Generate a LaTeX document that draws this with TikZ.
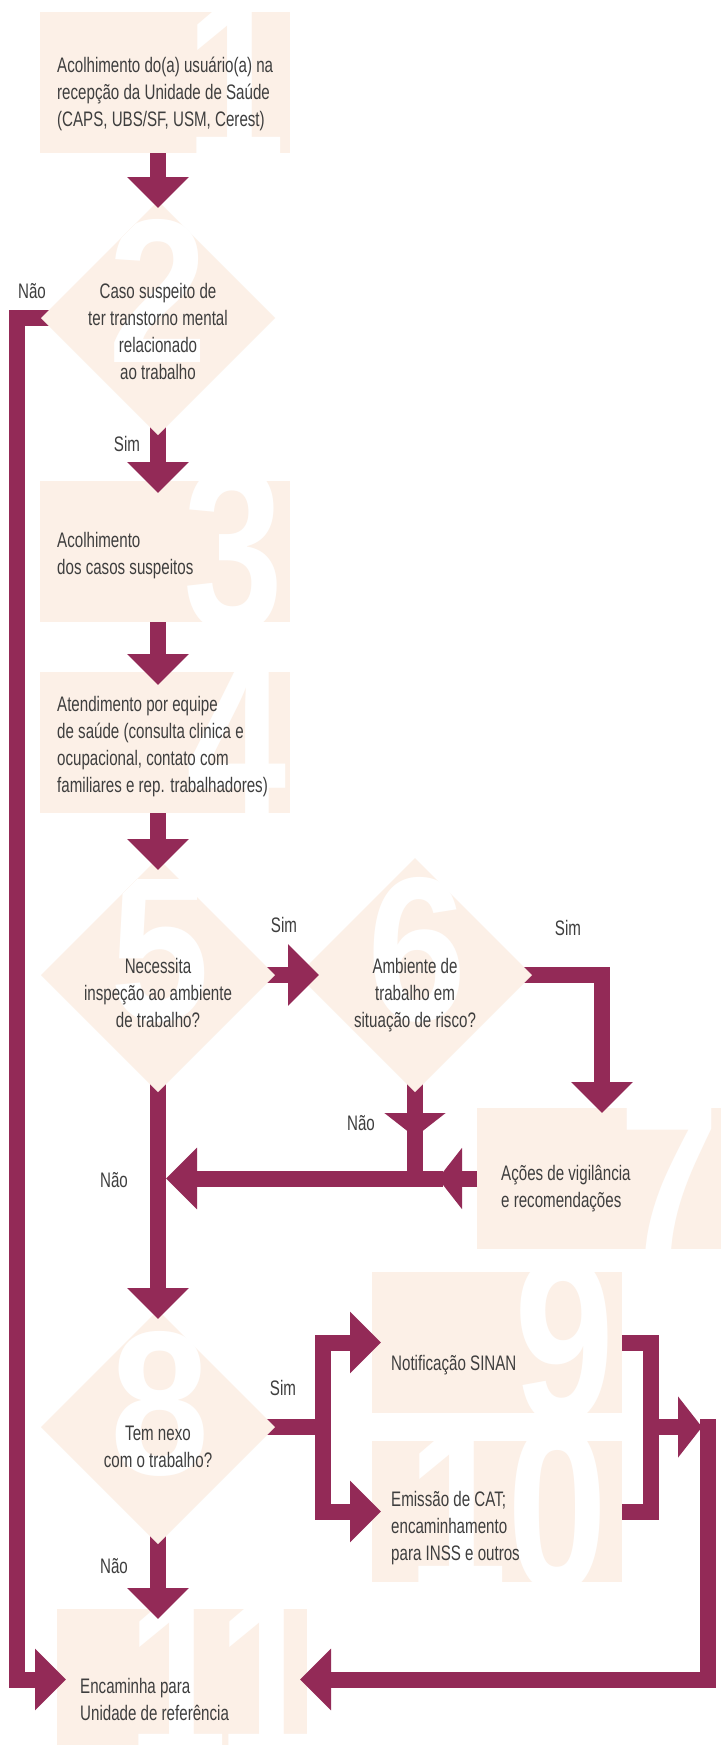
\documentclass[tikz,border=0pt]{standalone}
\usepackage{fontspec}
\usetikzlibrary{shapes.geometric,arrows.meta,calc}
\newfontfamily\bodyfont{Liberation Sans}[FakeStretch=0.72]
\newfontfamily\digitfont{Liberation Sans}[FakeStretch=0.87]
\newfontfamily\digitfontb{Liberation Sans}[FakeStretch=0.76]
\definecolor{maroon}{RGB}{147,42,87}
\definecolor{peach}{RGB}{252,240,231}
\definecolor{txtc}{RGB}{62,62,62}
\pgfdeclarelayer{boxes}
\pgfdeclarelayer{conns}
\pgfdeclarelayer{fg}
\pgfsetlayers{boxes,conns,main,fg}
\tikzset{
 boxnode/.style={rectangle, fill=peach, minimum width=250pt, minimum height=141pt, inner sep=0pt, outer sep=0pt},
 dia/.style={diamond, fill=peach, minimum width=234pt, minimum height=234pt, aspect=1, inner sep=0pt, outer sep=0pt},
 conn/.style={draw=maroon, line width=16pt, line join=miter},
 arr/.style={conn, -{Triangle[length=31pt, width=60pt]}},
 arrs/.style={conn, -{Triangle[length=24pt, width=60pt]}},
 txt/.style={text=txtc, font=\bodyfont\fontsize{21}{26.7}\selectfont, inner sep=0pt, align=left, anchor=base west},
 ctxt/.style={text=txtc, font=\bodyfont\fontsize{21}{26.7}\selectfont, inner sep=0pt, align=center, anchor=base},
 dig/.style={text=white, font=\digitfont\bfseries\fontsize{205}{205}\selectfont, inner sep=0pt, anchor=base west},
 digb/.style={text=white, font=\digitfontb\bfseries\fontsize{237}{237}\selectfont, inner sep=0pt, anchor=base west},
}
\begin{document}
\begin{tikzpicture}[x=1pt,y=-1pt]
\useasboundingbox (0,0) rectangle (720,1745);
\begin{pgfonlayer}{boxes}
\fill[white] (0,0) rectangle (720,1745);
% boxes
\node[boxnode] (b1) at (165,82.5) {};
\node[boxnode] (b3) at (165,551.5) {};
\node[boxnode] (b4) at (165,742.5) {};
\node[boxnode] (b7) at (602,1178.5) {};
\node[boxnode] (b9) at (497,1342.5) {};
\node[boxnode] (b10) at (497,1511.5) {};
\node[boxnode] (b11) at (182,1679.5) {};
\begin{scope}\clip (b1.south west) rectangle (b1.north east); \node[digb] (n1) at (185,161) {1};\end{scope}
\begin{scope}\clip (b3.south west) rectangle (b3.north east); \node[digb] (n3) at (183,630) {3};\end{scope}
\begin{scope}\clip (b4.south west) rectangle (b4.north east); \node[digb] (n4) at (186,821) {4};\end{scope}
\begin{scope}\clip (b7.south west) rectangle (b7.north east); \node[digb] (n7) at (619,1266) {7};\end{scope}
\begin{scope}\clip (b9.south west) rectangle (b9.north east); \node[digb] (n9) at (514,1421) {9};\end{scope}
\begin{scope}\clip (b10.south west) rectangle (b10.north east); \node[digb] (n10) at (407,1590) {10};\end{scope}
\begin{scope}\clip (b11.south west) rectangle (b11.north east); \node[digb] (n11) at (127,1758) {11};\end{scope}
% texts: anchor is baseline of last line
\node[txt] (t1) at (57,126) {Acolhimento do(a) usuário(a) na\\recepção da Unidade de Saúde\\(CAPS, UBS/SF, USM, Cerest)};
\node[txt] (t3) at (57,574) {Acolhimento\\dos casos suspeitos};
\node[txt] (t4) at (57,792) {Atendimento por equipe\\de saúde (consulta clinica e\\ocupacional, contato com\\familiares e rep. trabalhadores)};
\node[txt] (t7) at (501,1207) {Ações de vigilância\\e recomendações};
\node[txt] (t9) at (391,1370) {Notificação SINAN};
\node[txt] (t10) at (391,1560) {Emissão de CAT;\\encaminhamento\\para INSS e outros};
\node[txt] (t11) at (80,1720) {Encaminha para\\Unidade de referência};
\end{pgfonlayer}
% diamonds (main layer)
\node[dia] (d2) at (158,318) {};
\node[dia] (d5) at (158,975) {};
\node[dia] (d6) at (415,975) {};
\node[dia] (d8) at (158,1427) {};
\begin{scope}\clip (d2.north)--(d2.east)--(d2.south)--(d2.west)--cycle; \node[dig] (n2) at (108,362) {2};\end{scope}
\begin{scope}\clip (d5.north)--(d5.east)--(d5.south)--(d5.west)--cycle; \node[dig] (n5) at (110,1020) {5};\end{scope}
\begin{scope}\clip (d6.north)--(d6.east)--(d6.south)--(d6.west)--cycle; \node[dig] (n6) at (367,1020) {6};\end{scope}
\begin{scope}\clip (d8.north)--(d8.east)--(d8.south)--(d8.west)--cycle; \node[dig] (n8) at (110,1474) {8};\end{scope}
\node[ctxt] (dt2) at (158,379) {Caso suspeito de\\ter transtorno mental\\relacionado\\ao trabalho};
\node[ctxt] (dt5) at (158,1027) {Necessita\\inspeção ao ambiente\\de trabalho?};
\node[ctxt] (dt6) at (415,1027) {Ambiente de\\trabalho em\\situação de risco?};
\node[ctxt] (dt8) at (158,1467) {Tem nexo\\com o trabalho?};
% labels
\node[ctxt] (ln2) at (32,298) {Não};
\node[ctxt] (ls2) at (127,451) {Sim};
\node[ctxt] (ls5) at (284,932) {Sim};
\node[ctxt] (ls6) at (568,935) {Sim};
\node[ctxt] (ln6) at (361,1130) {Não};
\node[ctxt] (ln5) at (114,1187) {Não};
\node[ctxt] (ls8) at (283,1395) {Sim};
\node[ctxt] (ln8) at (114,1573) {Não};
% connectors under diamonds, above boxes
\begin{pgfonlayer}{conns}
\draw[arr] ($(d2.south)+(0,-10)$) -- ($(b3.north -| d2.south)+(0,12)$);
\draw[arr] (b3.south -| d2.south) -- ($(b4.north -| d2.south)+(0,13)$);
\draw[conn] (d5.center) -- ($(d5.east)+(12,0)$);
\draw[conn] (d5.center) -- ($(d5.south)+(0,12)$);
\draw[arr] ($(d6.east)+(-10,0)$) -| ($(b7.north)+(0,5)$);
\coordinate (h6) at ($(d6.south)+(0,45)$);
\coordinate (j6) at (d6.south |- b7.west);
\draw[arrs] ($(d6.south)+(0,-10)$) -- (h6);
\draw[conn] ($(h6)+(0,-8)$) -- (j6);
\coordinate (h7) at ($(b7.west)+(-39,0)$);
\draw[arrs] (b7.west) -- (h7);
\draw[arr] ($(h7)+(5,0)$) -- ($(d5.south |- b7.west)+(8,0)$);
\draw[arr] ($(d8.south)+(0,-10)$) -- ($(b11.north -| d8.south)+(0,10)$);
\coordinate (f8) at ($(d8.east)+(48,0)$);
\draw[conn] ($(d8.east)+(-10,0)$) -- (f8);
\draw[arr] (f8) |- ($(b9.west)+(9,0)$);
\draw[arr] (f8) |- ($(b10.west)+(9,0)$);
\coordinate (m9) at ($(b9.east)!0.5!(b10.east)+(29,0)$);
\draw[conn] (b9.east) -| (m9);
\draw[conn] (b10.east) -| (m9);
\coordinate (rc) at ($(m9)+(57,0)$);
\draw[arrs] (m9) -- ($(rc)+(-6,0)$);
\draw[arr] ($(rc)+(0,-8)$) |- ($(b11.east)+(-7,0)$);
\draw[arr] ($(d2.west)+(10,0)$) -- ($(d2.west)+(-24,0)$) |- ($(b11.west)+(9,0)$);
\end{pgfonlayer}
% connectors above diamonds
\begin{pgfonlayer}{fg}
\draw[arr] (b1.south -| d2.north) -- ($(d2.north)+(0,7)$);
\draw[arr] (b4.south -| d5.north) -- ($(d5.north)+(0,12)$);
\draw[arr] ($(d5.east)+(8,0)$) -- ($(d6.west)+(21,0)$);
\draw[arr] ($(d5.south)+(0,8)$) -- ($(d8.north)+(0,9)$);
\end{pgfonlayer}
\end{tikzpicture}
\end{document}
